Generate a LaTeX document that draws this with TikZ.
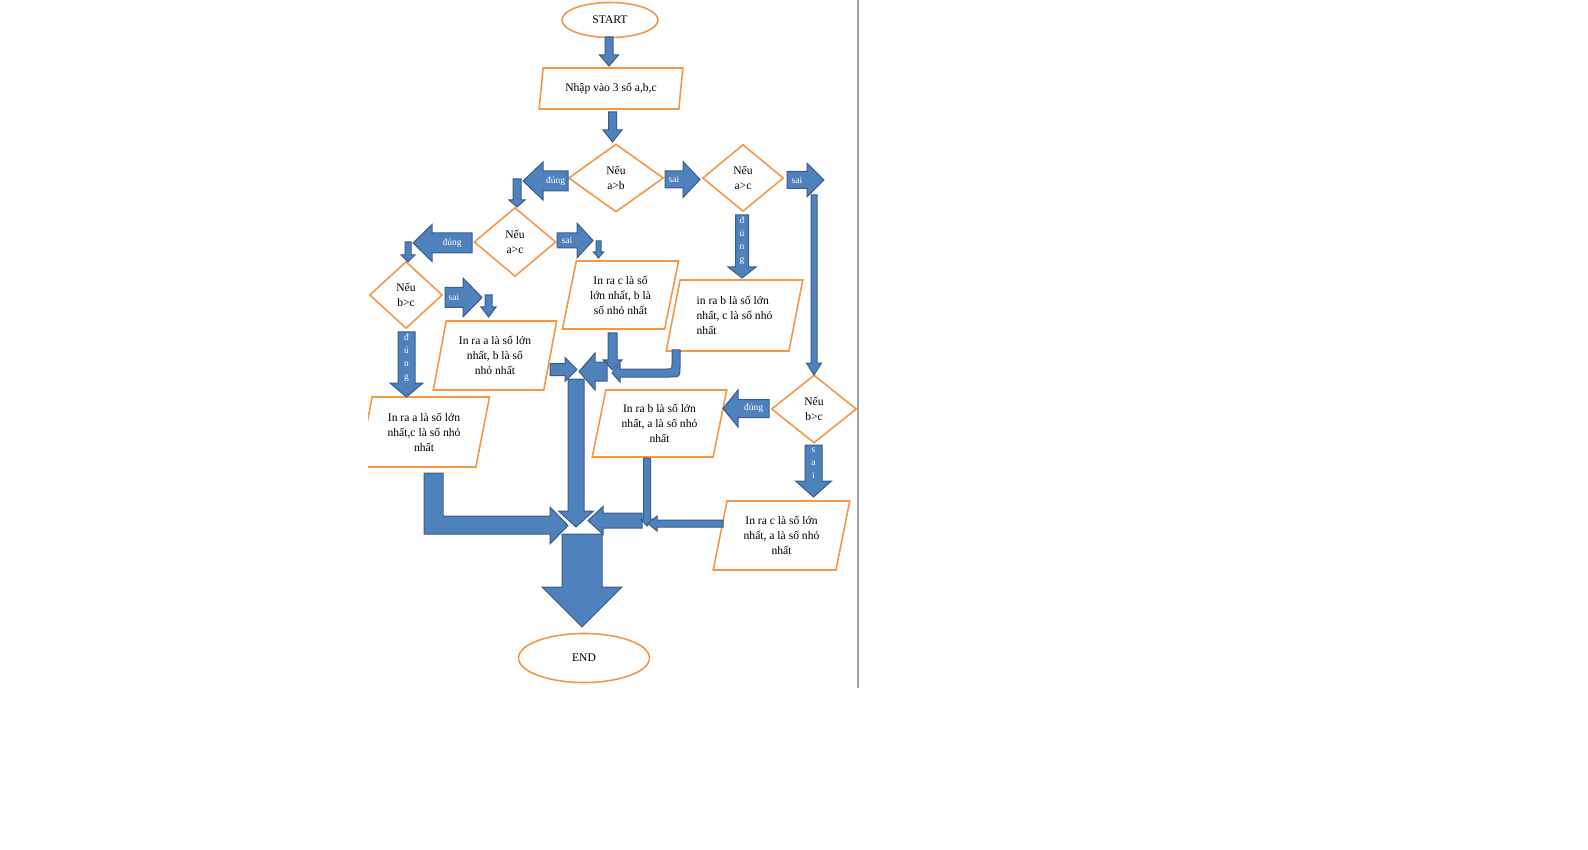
\documentclass[tikz,border=0pt]{standalone}
\usepackage{fontspec}
\setmainfont{Liberation Serif}
\usetikzlibrary{positioning,shapes,arrows}

\definecolor{boxorange}{HTML}{F79646}
\definecolor{arrowblue}{HTML}{4F81BD}
\definecolor{arrowedge}{HTML}{385D8A}
\definecolor{rulegray}{HTML}{9CA3AC}

\tikzset{
  pics/barrow/.style n args={5}{code={
    \draw[blk] (0,-#2/2) -- ({#1-#4},-#2/2) -- ({#1-#4},-#3/2) -- (#1,0) -- ({#1-#4},#3/2) -- ({#1-#4},#2/2) -- (0,#2/2) -- cycle;
    \node[lbl] (-t) at ({(#1-#4)/2},0) {#5};
  }},
}

\begin{document}
\begin{tikzpicture}[x=1pt,y=-1pt,
  font=\fontsize{11.6}{15}\selectfont,
  term/.style={draw=boxorange, line width=1.6pt, ellipse, inner sep=0pt},
  io/.style={draw=boxorange, line width=1.6pt, trapezium, trapezium left angle=76, trapezium right angle=104, trapezium stretches=true, inner sep=0pt, align=center},
  cond/.style={draw=boxorange, line width=1.6pt, diamond, inner sep=0pt, align=center},
  blk/.style={draw=arrowedge, fill=arrowblue, line width=1pt},
  lbl/.style={text=white, inner sep=0pt, align=center, font=\fontsize{9.5}{13}\selectfont},
  dn/.style={rotate=-90},
  lt/.style={rotate=180}
]
\useasboundingbox (0,0) rectangle (1588,850);
\draw[rulegray, line width=1.5pt] (858,0) -- (858,688);

\node[term, minimum width=96pt, minimum height=35pt] (start) at (610,20) {START};
\node[io, minimum width=144pt, minimum height=41pt] (input) at (611,88.5) {Nhập vào 3 số a,b,c};
\node[cond, minimum width=95pt, minimum height=68pt] (ifab) at (616,178) {Nếu\\a>b};
\node[cond, minimum width=81pt, minimum height=67pt] (ifac) at (743,178) {Nếu\\a>c};
\node[cond, minimum width=82pt, minimum height=69pt] (ifacb) at (515,242) {Nếu\\a>c};
\node[cond, minimum width=73pt, minimum height=67pt] (ifbc) at (406,295) {Nếu\\b>c};
\node[cond, minimum width=85pt, minimum height=68pt] (ifbcb) at (814,409) {Nếu\\b>c};
\node[io, minimum width=117pt, minimum height=68pt] (outcb) at (620.5,295) {In ra c là số\\lớn nhất, b là\\số nhỏ nhất};
\node[io, minimum width=137pt, minimum height=71pt, align=left] (outbc) at (734.5,315.5) {in ra b là số lớn\\nhất, c là số nhỏ\\nhất};
\node[io, minimum width=124pt, minimum height=69pt] (outab) at (495,355.5) {In ra a là số lớn\\nhất, b là số\\nhỏ nhất};
\begin{scope}
\clip (368,380) rectangle (500,480);
\node[io, minimum width=132pt, minimum height=70pt] (outac) at (424,432) {In ra a là số lớn\\nhất,c là số nhỏ\\nhất};
\end{scope}
\node[io, minimum width=135pt, minimum height=67pt] (outba) at (659.5,423.5) {In ra b là số lớn\\nhất, a là số nhỏ\\nhất};
\node[io, minimum width=137pt, minimum height=69pt] (outca) at (781.5,535.5) {In ra c là số lớn\\nhất, a là số nhỏ\\nhất};
\node[term, minimum width=131pt, minimum height=49pt] (end) at (584,658) {END};

% block arrows: length / shaft / head / head length / text
\pic[dn] (aStart) at (609,37) {barrow={29}{8}{19}{11}{}};
\pic[dn] (aInput) at (612.5,112) {barrow={30}{8}{19}{12}{}};
\pic[lt] (yesAB) at (568,181) {barrow={45}{20}{38}{20}{đúng}};
\pic[dn] (toACb) at (517,179) {barrow={28}{8}{16}{7}{}};
\pic (noAB) at (665,179.5) {barrow={35}{17}{36}{17}{sai}};
\pic (noAC) at (787,180) {barrow={37}{17}{34}{17}{sai}};
\pic[dn] (yesAC) at (742,215) {barrow={63}{13}{28}{11}{đ\\ú\\n\\g}};
\pic[dn] (toBCb) at (814,195) {barrow={180}{6}{15}{12}{}};
\pic[lt] (yesACb) at (472,243) {barrow={59}{20}{37}{19}{đúng}};
\pic[dn] (toBC) at (408,242) {barrow={20}{6}{14}{7}{}};
\pic (noACb) at (557,240.5) {barrow={36}{15}{35}{16}{sai}};
\pic[dn] (toCB) at (598.5,241) {barrow={17}{5}{10}{6}{}};
\pic (noBC) at (445,297.5) {barrow={37}{20}{39}{19}{sai}};
\pic[dn] (toAB) at (488.5,295) {barrow={22}{7}{15}{10}{}};
\pic[dn] (yesBC) at (406.5,332) {barrow={65}{17}{33}{14}{đ\\ú\\n\\g}};
\pic (fromAB) at (550,369.5) {barrow={27}{12}{24}{12}{}};
\pic[dn] (fromCB) at (612.5,333) {barrow={37}{9}{19}{10}{}};
\pic[lt] (joinTop) at (607,371.5) {barrow={28}{19}{37}{16}{}};
\pic[dn] (joinDown) at (576,379) {barrow={148}{16}{35}{16}{}};
\pic[lt] (yesBCb) at (769,408.5) {barrow={46}{18}{37}{15}{đúng}};
\pic[dn] (noBCb) at (813.5,445) {barrow={52}{17}{36}{16}{s\\a\\i}};
\pic[lt] (joinMid) at (642,520.5) {barrow={54}{15}{28}{15}{}};
\pic[dn] (fromBA) at (647,458) {barrow={68}{7}{13}{7}{}};
\pic[lt] (fromCA) at (723,523.5) {barrow={75}{7}{15}{9}{}};
\pic[dn] (toEnd) at (582,534) {barrow={93}{40}{80}{40}{}};

% bent arrows
\draw[blk] (424,473) -- (443,473) -- (443,516) -- (550,516) -- (550,507) -- (568,525.5) -- (550,544) -- (550,534) -- (424,534) -- cycle;
\draw[blk] (672,350) -- (672,364) .. controls (672,369) .. (667,369) -- (620,369) -- (620,364) -- (612,373) -- (620,382) -- (620,377) -- (670,377) .. controls (680,377) .. (680,367) -- (680,350) -- cycle;
\end{tikzpicture}
\end{document}
